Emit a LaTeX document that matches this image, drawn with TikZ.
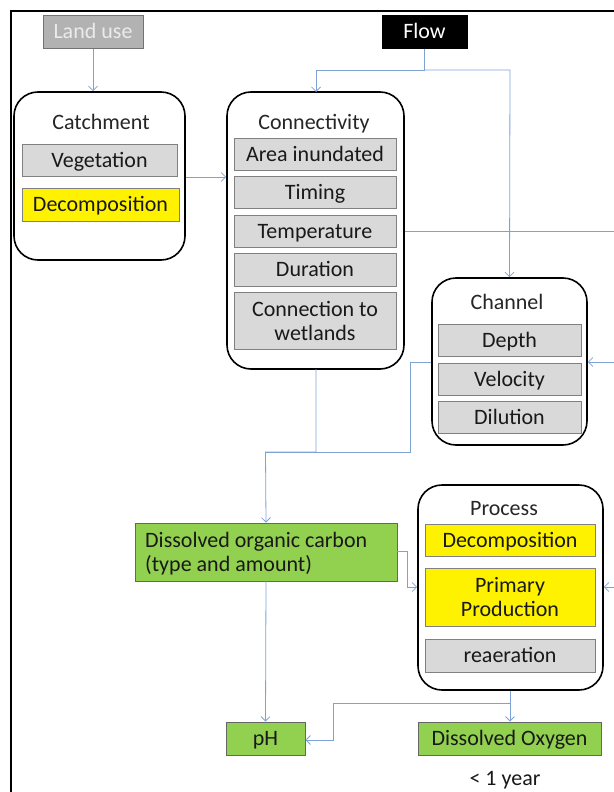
\documentclass[tikz,border=0pt]{standalone}
\usepackage{fontspec}
\setmainfont{Carlito}
\usetikzlibrary{arrows.meta}
\definecolor{linkblue}{HTML}{7FA2D6}
\definecolor{grnfill}{HTML}{92D050}
\definecolor{itemgray}{HTML}{D9D9D9}
\begin{document}
\begin{tikzpicture}[x=1pt,y=-1pt,
  every node/.style={font=\fontsize{22}{24}\selectfont},
  one/.style={text height=16pt, text depth=2pt},
  big/.style={draw=black, line width=1.6pt, rounded corners=24pt, inner sep=0pt, fill=white},
  item/.style={draw=black!50, line width=0.8pt, fill=itemgray, inner sep=0pt, align=center, text=black!90},
  ylw/.style={item, fill=yellow},
  grn/.style={draw=black!60, line width=0.8pt, fill=grnfill, inner sep=0pt, text=black!90},
  title/.style={inner sep=0pt, text=black!85},
  conn/.style={draw=linkblue, line width=0.8pt},
  arr/.style={conn, -{Straight Barb[length=4.5pt,width=9pt]}}]
\useasboundingbox (0,0) rectangle (613,792);
% frame
\draw[line width=1.8pt] (11,792) -- (11,11) -- (620,11);
% top drivers
\node[one, draw=black!55, fill=black!30, text=white!92!black, minimum width=100pt, minimum height=33pt, inner sep=0pt] (land) at (93,32) {Land use};
\node[one, draw=black, fill=black, text=white, minimum width=85pt, minimum height=33pt, inner sep=0pt] (flow) at (424.5,32) {Flow};
% catchment
\node[big, minimum width=171pt, minimum height=168pt] (catch) at (99.5,176) {};
\node[title, one] (catchT) at (101,122) {Catchment};
\node[item, one, minimum width=155pt, minimum height=32pt] (veg) at (99.5,160) {Vegetation};
\node[ylw, one, minimum width=157pt, minimum height=33pt] (decC) at (100.5,204.5) {Decomposition};
% connectivity
\node[big, minimum width=177pt, minimum height=277pt] (connect) at (315.5,230.5) {};
\node[title, one] (connT) at (314,122) {Connectivity};
\node[item, one, minimum width=162pt, minimum height=32pt] (area) at (315,154) {Area inundated};
\node[item, one, minimum width=162pt, minimum height=32pt] (timing) at (315,192) {Timing};
\node[item, one, minimum width=162pt, minimum height=32pt] (temp) at (315,231) {Temperature};
\node[item, one, minimum width=162pt, minimum height=33pt] (dur) at (315,269.5) {Duration};
\node[item, minimum width=162pt, minimum height=57pt] (wet) at (315,320.5) {Connection to\\wetlands};
% channel
\node[big, minimum width=155pt, minimum height=167pt] (channel) at (509.5,361.5) {};
\node[title, one] (chanT) at (507,302) {Channel};
\node[item, one, minimum width=143pt, minimum height=32pt] (depth) at (509.5,340) {Depth};
\node[item, one, minimum width=143pt, minimum height=32pt] (vel) at (509.5,379) {Velocity};
\node[item, one, minimum width=143pt, minimum height=32pt] (dil) at (509.5,417) {Dilution};
% process
\node[big, minimum width=185pt, minimum height=205pt] (process) at (510.5,587.5) {};
\node[title, one] (procT) at (504,508) {Process};
\node[ylw, one, minimum width=170pt, minimum height=32pt] (decP) at (510,540) {Decomposition};
\node[ylw, minimum width=170pt, minimum height=58pt] (pp) at (510,597) {Primary\\Production};
\node[item, one, minimum width=170pt, minimum height=33pt] (reaer) at (510,655.5) {reaeration};
% outputs
\node[grn, minimum width=262pt, minimum height=58pt] (doc) at (266,552) {};
\node[inner sep=0pt, anchor=west, align=left, text=black!90] (docT) at (145,554) {Dissolved organic carbon\\(type and amount)};
\node[grn, one, minimum width=79pt, minimum height=33pt] (ph) at (265.5,738.5) {pH};
\node[grn, one, minimum width=183pt, minimum height=33pt] (dox) at (509.5,738.5) {Dissolved Oxygen};
\node[inner sep=0pt, one, text=black!90] (year) at (505,778) {< 1 year};
% connectors
\draw[arr] (land.south) -- (land.south |- catch.north);
\coordinate (fb) at (424.5,70);
\draw[conn] (flow.south) -- (fb);
\draw[arr] (fb) -- (316,70) -- (316,92);
\draw[arr] (fb) -- (510,70) -- (channel.north);
\draw[arr] (catch.east |- 0,177) -- (connect.west |- 0,177);
\coordinate (offR) at (630,0);
\draw[conn] (connect.east |- temp.center) -- (offR |- temp.center) -- (offR |- 0,362);
\draw[arr] (offR |- 0,362) -- (channel.east |- 0,362);
\draw[arr] (offR |- 0,362) -- (offR |- 0,587) -- (process.east |- 0,587);
\coordinate (j1) at (265.5,452);
\draw[arr] (316,369) -- (316,452) -- (j1) -- (doc.north);
\draw[conn] (channel.west |- 0,362) -- (410.5,362) -- (410.5,452) -- (j1);
\draw[arr] (doc.east |- 0,551) -- (407,551) -- (407,587) -- (process.west |- 0,587);
\draw[arr] (doc.south) -- (ph.north);
\coordinate (j2) at (510,703);
\draw[arr] (process.south -| 510,0) -- (dox.north -| 510,0);
\draw[arr] (j2) -- (333,703) -- (333,740) -- (ph.east |- 0,740);
\end{tikzpicture}
\end{document}
